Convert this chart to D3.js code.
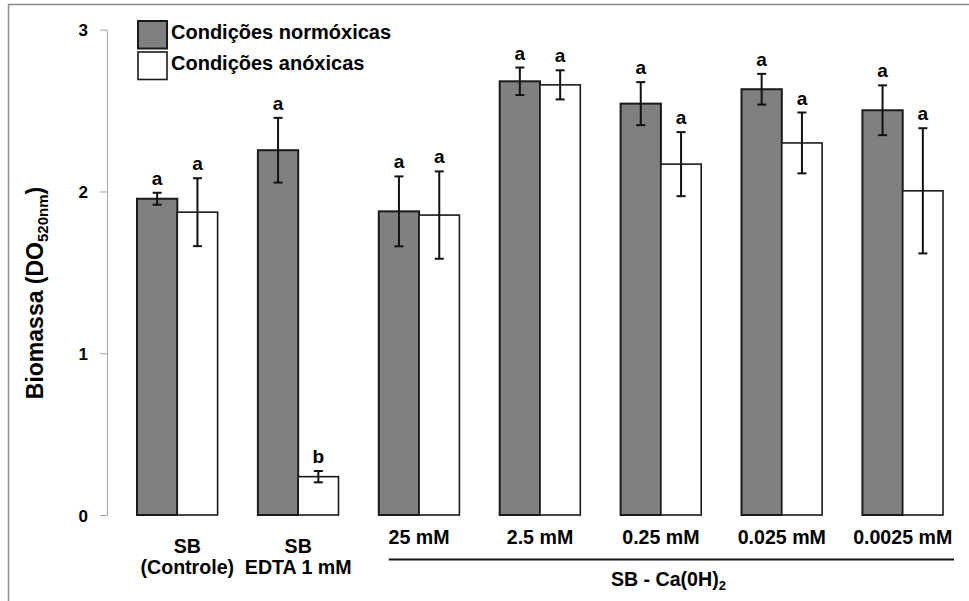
<!DOCTYPE html>
<html>
<head>
<meta charset="utf-8">
<title>Biomassa - condições normóxicas e anóxicas</title>
<style type="text/css">
  body { margin: 0; background: #fff; }
  svg text { font-family: "Liberation Sans", Arial, sans-serif; font-weight: bold; fill: #000; }
  .frame { stroke: #8c8c8c; stroke-width: 1.5px; fill: none; }
  .y-axis path, .y-axis line { stroke: #a6a6a6; stroke-width: 1px; }
  .y-axis text { font-size: 17px; }
  .bar-normo { fill: #808080; stroke: #1a1a1a; stroke-width: 2px; }
  .bar-anox { fill: #fff; stroke: #1a1a1a; stroke-width: 1.6px; }
  .err { stroke: #111; stroke-width: 2px; }
</style>
</head>
<body>
<div id="chart"></div>
<script src="https://d3js.org/d3.v7.min.js"></script>
<script>
  // values
  var categories = ["SB (Controle)", "SB EDTA 1 mM", "25 mM", "2.5 mM", "0.25 mM", "0.025 mM", "0.0025 mM"];
  var categoryLines = [["SB", "(Controle)"], ["SB", "EDTA 1 mM"], ["25 mM"], ["2.5 mM"], ["0.25 mM"], ["0.025 mM"], ["0.0025 mM"]];
  var normoxic = [1.955, 2.255, 1.877, 2.681, 2.543, 2.632, 2.502];
  var normoxicErr = [0.037, 0.200, 0.216, 0.085, 0.133, 0.095, 0.154];
  var anoxic = [1.872, 0.237, 1.854, 2.659, 2.169, 2.300, 2.004];
  var anoxicErr = [0.210, 0.035, 0.270, 0.090, 0.198, 0.188, 0.387];
  var normoxicLetters = ["a", "a", "a", "a", "a", "a", "a"];
  var anoxicLetters = ["a", "b", "a", "a", "a", "a", "a"];
  var seriesNames = ["Condições normóxicas", "Condições anóxicas"];
  var yTicks = [0, 1, 2, 3];
  var caGroup = ["25 mM", "0.0025 mM"];   // first and last category under the SB - Ca(0H)2 bracket

  var width = 969, height = 601;

  var svg = d3.select("#chart").append("svg")
      .attr("width", width)
      .attr("height", height);

  // outer frame (only top and left edges are visible in the original)
  svg.append("path").attr("class", "frame")
      .attr("d", "M8.5," + height + "V4.5H" + width);

  var x = d3.scaleBand()
      .domain(categories)
      .range([137, 943])
      .paddingInner(1 / 3)
      .paddingOuter(0);

  var xSeries = d3.scaleBand()
      .domain(["normo", "anox"])
      .range([0, x.bandwidth()]);

  var y = d3.scaleLinear()
      .domain([0, 3])
      .range([515, 29.7]);

  // y axis
  var yAxis = svg.append("g")
      .attr("class", "y-axis")
      .attr("transform", "translate(107,0)")
      .call(d3.axisLeft(y).tickValues(yTicks).tickFormat(d3.format("d"))
            .tickSize(7).tickSizeOuter(0).tickPadding(12));
  yAxis.selectAll("text").attr("font-size", null).attr("font-family", null).attr("dy", "0.36em");

  // y title
  var yTitle = svg.append("text")
      .attr("transform", "translate(43,293) rotate(-90)")
      .attr("text-anchor", "middle")
      .style("font-size", "23px");
  yTitle.append("tspan").text("Biomassa (DO");
  yTitle.append("tspan").attr("dy", 5).style("font-size", "15px").text("520nm");
  yTitle.append("tspan").attr("dy", -5).text(")");

  // bars, error bars and letters
  var rows = categories.map(function (c, i) {
    return [
      { cat: c, key: "normo", v: normoxic[i], e: normoxicErr[i], letter: normoxicLetters[i] },
      { cat: c, key: "anox", v: anoxic[i], e: anoxicErr[i], letter: anoxicLetters[i] }
    ];
  });

  var groups = svg.append("g").selectAll("g")
      .data(rows)
      .enter().append("g")
      .attr("transform", function (d) { return "translate(" + x(d[0].cat) + ",0)"; });

  var items = groups.selectAll("g")
      .data(function (d) { return d; })
      .enter().append("g");

  items.append("rect")
      .attr("class", function (d) { return d.key === "normo" ? "bar-normo" : "bar-anox"; })
      .attr("x", function (d) { return xSeries(d.key); })
      .attr("width", xSeries.bandwidth())
      .attr("y", function (d) { return y(d.v); })
      .attr("height", function (d) { return y(0) - y(d.v); });

  var cx = function (d) { return xSeries(d.key) + xSeries.bandwidth() / 2; };
  var capW = 4.5;

  items.append("line").attr("class", "err")
      .attr("x1", cx).attr("x2", cx)
      .attr("y1", function (d) { return y(d.v + d.e); })
      .attr("y2", function (d) { return y(d.v - d.e); });
  items.append("line").attr("class", "err")
      .attr("x1", function (d) { return cx(d) - capW; })
      .attr("x2", function (d) { return cx(d) + capW; })
      .attr("y1", function (d) { return y(d.v + d.e); })
      .attr("y2", function (d) { return y(d.v + d.e); });
  items.append("line").attr("class", "err")
      .attr("x1", function (d) { return cx(d) - capW; })
      .attr("x2", function (d) { return cx(d) + capW; })
      .attr("y1", function (d) { return y(d.v - d.e); })
      .attr("y2", function (d) { return y(d.v - d.e); });

  items.append("text")
      .attr("x", cx)
      .attr("y", function (d) { return y(d.v + d.e) - 8; })
      .attr("text-anchor", "middle")
      .style("font-size", "19px")
      .text(function (d) { return d.letter; });

  // category labels
  var firstLabelNudge = 10;
  svg.append("g").selectAll("text")
      .data(categories)
      .enter().append("text")
      .attr("text-anchor", "middle")
      .style("font-size", "19.6px")
      .each(function (c, i) {
        var lines = categoryLines[i];
        var t = d3.select(this);
        var cxl = x(c) + x.bandwidth() / 2 + (i === 0 ? firstLabelNudge : 0);
        lines.forEach(function (ln, j) {
          t.append("tspan")
            .attr("x", cxl)
            .attr("y", (lines.length > 1 ? 553 : 544) + j * 21)
            .text(ln);
        });
      });

  // bracket for the Ca(0H)2 treatments
  var bx1 = x(caGroup[0]) + 10,
      bx2 = x(caGroup[1]) + x.bandwidth() + 11;
  svg.append("line")
      .attr("x1", bx1).attr("x2", bx2)
      .attr("y1", 559.5).attr("y2", 559.5)
      .attr("stroke", "#111").attr("stroke-width", 2.2);
  var caLabel = svg.append("text")
      .attr("x", (bx1 + bx2) / 2 - 3)
      .attr("y", 586)
      .attr("text-anchor", "middle")
      .style("font-size", "19.6px");
  caLabel.append("tspan").text("SB - Ca(0H)");
  caLabel.append("tspan").attr("dy", 4).style("font-size", "13px").text("2");

  // legend
  var legend = svg.append("g").attr("transform", "translate(138,21)");
  var leg = legend.selectAll("g")
      .data(seriesNames)
      .enter().append("g")
      .attr("transform", function (d, i) { return "translate(0," + i * 31 + ")"; });
  leg.append("rect")
      .attr("class", function (d, i) { return i === 0 ? "bar-normo" : "bar-anox"; })
      .attr("width", 29)
      .attr("height", 27.5);
  leg.append("text")
      .attr("x", 33)
      .attr("y", 18)
      .style("font-size", "20px")
      .text(function (d) { return d; });
</script>
</body>
</html>
